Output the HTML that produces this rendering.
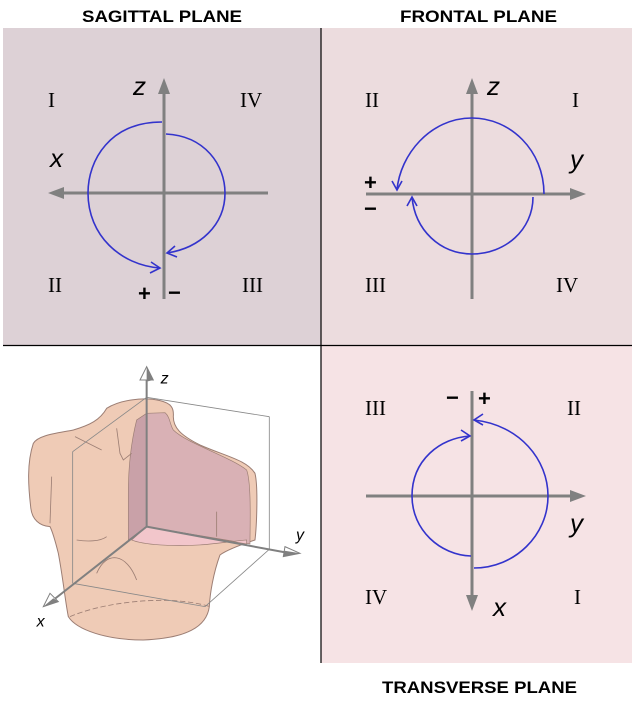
<!DOCTYPE html>
<html><head><meta charset="utf-8"><style>html,body{margin:0;padding:0;background:#fff}svg{display:block}</style></head>
<body>
<svg width="640" height="701" viewBox="0 0 640 701" xmlns="http://www.w3.org/2000/svg">
<defs>
<marker id="ga" viewBox="0 0 10 10" refX="9" refY="5" markerWidth="6" markerHeight="6" orient="auto" markerUnits="userSpaceOnUse"><path d="M0,0 L10,5 L0,10 z" fill="#808080"/></marker>
</defs>
<rect x="3" y="28" width="318" height="317" fill="#ddd1d6"/>
<rect x="321" y="28" width="311" height="317" fill="#ecdcde"/>
<rect x="321" y="345" width="311" height="318" fill="#f6e3e5"/>
<line x1="321" y1="28" x2="321" y2="663" stroke="#000" stroke-width="1.2"/>
<line x1="3" y1="345.5" x2="632" y2="345.5" stroke="#000" stroke-width="1.2"/>

<g font-family="Liberation Sans, sans-serif" font-weight="bold" font-size="17" fill="#000">
<text x="82" y="22" textLength="160" lengthAdjust="spacingAndGlyphs">SAGITTAL PLANE</text>
<text x="400" y="22" textLength="157" lengthAdjust="spacingAndGlyphs">FRONTAL PLANE</text>
<text x="382" y="693" textLength="195" lengthAdjust="spacingAndGlyphs">TRANSVERSE PLANE</text>
</g>

<g stroke="#808080" stroke-width="3" fill="none">
<!-- sagittal -->
<line x1="164" y1="299" x2="164" y2="90"/>
<line x1="268" y1="193" x2="58" y2="193"/>
<!-- frontal -->
<line x1="472" y1="299" x2="472" y2="90"/>
<line x1="366" y1="194" x2="577" y2="194"/>
<!-- transverse -->
<line x1="472" y1="391" x2="472" y2="600"/>
<line x1="366" y1="496" x2="577" y2="496"/>
</g>
<g fill="#808080">
<path d="M164,78 L158,94 L170,94 z"/>
<path d="M48,193 L64,187 L64,199 z"/>
<path d="M472,78 L466,94 L478,94 z"/>
<path d="M586,194 L570,188 L570,200 z"/>
<path d="M472,611 L466,595 L478,595 z"/>
<path d="M586,496 L570,490 L570,502 z"/>
</g>

<g stroke="#3333cc" stroke-width="1.6" fill="none">
<path d="M162,122 C110,122 88,160 88,193 C88,235 120,265 160,268"/>
<path d="M151,262 L160,268 L150,273"/>
<path d="M166,134 C205,136 225,165 225,193 C225,225 200,248 167,253"/>
<path d="M175,246 L167,253 L177,257"/>
<path d="M544,194 C544,150 510,118 472,118 C430,118 400,155 397,190"/>
<path d="M392,181 L397,190 L402,181"/>
<path d="M533,197 C533,230 505,254 472,254 C440,254 415,230 412,197"/>
<path d="M407,206 L412,197 L417,206"/>
<path d="M474,420 C520,425 548,460 548,496 C548,535 515,568 474,568"/>
<path d="M483,414 L474,420 L483,425"/>
<path d="M471,556 C440,555 412,530 412,496 C412,460 440,438 470,436"/>
<path d="M461,430 L470,436 L461,441"/>
</g>

<g font-family="Liberation Serif, serif" font-size="21" fill="#000">
<text x="48" y="107">I</text><text x="240" y="107">IV</text>
<text x="48" y="292">II</text><text x="242" y="292">III</text>
<text x="365" y="107">II</text><text x="572" y="107">I</text>
<text x="365" y="292">III</text><text x="556" y="292">IV</text>
<text x="365" y="415">III</text><text x="567" y="415">II</text>
<text x="365" y="604">IV</text><text x="574" y="604">I</text>
</g>
<g font-family="Liberation Sans, sans-serif" font-style="italic" font-size="26" fill="#000">
<text x="133" y="95">z</text><text x="50" y="167">x</text>
<text x="487" y="95">z</text><text x="570" y="168">y</text>
<text x="570" y="532">y</text><text x="493" y="616">x</text>
</g>
<g font-family="Liberation Sans, sans-serif" font-weight="bold" font-size="22" fill="#000">
<text x="138" y="301">+</text><text x="168" y="300">−</text>
<text x="364" y="190">+</text><text x="364" y="216">−</text>
<text x="446" y="405">−</text><text x="478" y="406">+</text>
</g>

<!-- torso -->
<g transform="translate(0,340) scale(0.3333)">
<path d="M320,205 C360,180 430,170 480,182 C515,190 522,205 520,230 C520,262 540,285 600,315 C680,350 740,360 765,400 C775,440 770,560 765,600 C720,615 680,630 660,645 C640,700 630,760 628,800 C620,860 560,895 430,900 C320,900 230,870 205,830 C195,780 190,720 175,640 C165,600 155,570 150,560 C120,558 95,540 92,500 C85,440 80,370 100,310 C115,285 170,280 220,270 C270,255 300,240 320,205 z" fill="#efcbb6" stroke="#9c7e74" stroke-width="3"/>
<path d="M440,220 L495,218 C510,230 510,255 520,270 C560,310 690,350 740,390 C755,430 750,560 750,612 L440,560 z" fill="#d9b1b5" stroke="#9c7e74" stroke-width="2"/>
<path d="M440,220 L410,240 C395,300 385,380 385,460 L385,600 L440,560 z" fill="#c9a1a8" stroke="#9c7e74" stroke-width="2"/>
<path d="M440,560 L395,600 C430,615 520,620 600,615 C640,612 690,605 740,600 L740,612 z" fill="#f2c6cb" stroke="#9c7e74" stroke-width="2"/>
<g stroke="#9c7e74" stroke-width="2.5" fill="none">
<path d="M210,830 C300,790 500,760 630,800" stroke-dasharray="16,8"/>
<path d="M290,700 C320,630 380,640 410,720"/>
<path d="M230,600 C260,605 300,605 320,590"/>
<path d="M225,290 L305,330"/>
<path d="M350,265 L360,340 L370,360 L395,340"/>
<path d="M650,515 L650,590"/>
<path d="M155,410 L150,550"/>
</g>
<g stroke="#888" stroke-width="2.5" fill="none">
<line x1="440" y1="172" x2="808" y2="230"/>
<line x1="808" y1="230" x2="808" y2="628"/>
<line x1="440" y1="172" x2="218" y2="335"/>
<line x1="218" y1="335" x2="218" y2="730"/>
<line x1="218" y1="730" x2="615" y2="800"/>
<line x1="615" y1="800" x2="808" y2="628"/>
</g>
<g stroke="#808080" stroke-width="6" fill="none">
<line x1="440" y1="560" x2="440" y2="110"/>
<line x1="440" y1="560" x2="860" y2="638"/>
<line x1="440" y1="560" x2="160" y2="780"/>
</g>
<path d="M440,80 L420,120 L460,120 z" fill="#fff" stroke="#808080" stroke-width="3"/>
<path d="M440,80 L440,125 L460,120 z" fill="#808080"/>
<path d="M900,640 L855,620 L850,650 z" fill="#fff" stroke="#808080" stroke-width="3"/>
<path d="M900,640 L850,650 L852,632 z" fill="#808080"/>
<path d="M130,800 L150,760 L175,785 z" fill="#fff" stroke="#808080" stroke-width="3"/>
<path d="M130,800 L175,785 L160,775 z" fill="#808080"/>
<g font-family="Liberation Sans, sans-serif" font-style="italic" font-size="48" fill="#000">
<text x="482" y="130">z</text>
<text x="888" y="600">y</text>
<text x="110" y="860">x</text>
</g>
</g>
</svg>
</body></html>
